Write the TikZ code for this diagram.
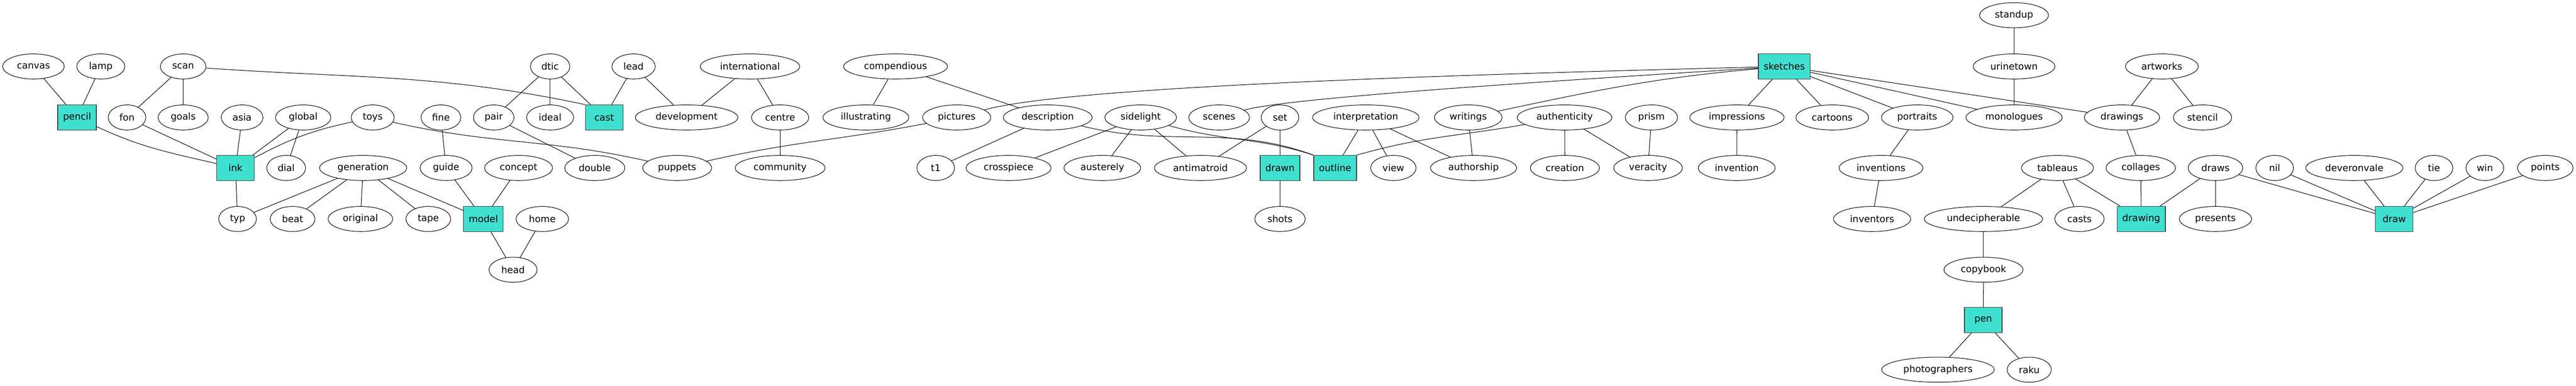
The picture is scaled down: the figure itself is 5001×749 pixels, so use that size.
\documentclass[tikz,border=0pt]{standalone}
\usepackage{fontspec}
\setmainfont{DejaVu Sans}
\usetikzlibrary{shapes.geometric}

\definecolor{turq}{HTML}{40E0D0}
\tikzset{
  WordStyle/.style={draw,ellipse,line width=0.75pt,inner xsep=7.5pt,inner ysep=3pt,
    minimum width=54pt,minimum height=36pt,font=\fontsize{13.5}{16}\selectfont},
  KeyStyle/.style={draw=black!75,rectangle,fill=turq,line width=1pt,inner xsep=7.5pt,
    minimum width=54pt,minimum height=36pt,font=\fontsize{13.5}{16}\selectfont},
  EdgeStyle/.style={line width=0.75pt}
}

\begin{document}
\begin{tikzpicture}[x=0.7392pt,y=0.7392pt]
            \useasboundingbox (0,0) rectangle (5001,-749);

            \node[KeyStyle] (pencil) at (149.6,-228) {pencil};
            \node[KeyStyle] (ink) at (457.2,-326) {ink};
            \node[KeyStyle] (cast) at (1173,-228) {cast};
            \node[KeyStyle] (model) at (938.4,-425) {model};
            \node[KeyStyle] (drawn) at (2485,-326) {drawn};
            \node[KeyStyle] (outline) at (2592,-326) {outline};
            \node[KeyStyle] (sketches) at (3464,-129) {sketches};
            \node[KeyStyle] (drawing) at (4157,-425) {drawing};
            \node[KeyStyle] (draw) at (4648,-425) {draw};
            \node[KeyStyle] (pen) at (3850.3,-621) {pen};

            \node[WordStyle] (standup) at (3910,-29.6) {standup};

            \node[WordStyle] (canvas) at (65,-129) {canvas};
            \node[WordStyle] (lamp) at (195.7,-129) {lamp};
            \node[WordStyle] (scan) at (355.6,-129) {scan};
            \node[WordStyle] (dtic) at (1068,-129) {dtic};
            \node[WordStyle] (lead) at (1230,-129) {lead};
            \node[WordStyle] (international) at (1456,-129) {international};
            \node[WordStyle] (compendious) at (1738.5,-129) {compendious};
            \node[WordStyle] (urinetown) at (3910,-129) {urinetown};
            \node[WordStyle] (artworks) at (4197,-129) {artworks};

            \node[WordStyle] (fon) at (246.6,-228) {fon};
            \node[WordStyle] (goals) at (355.6,-228) {goals};
            \node[WordStyle] (asia) at (470,-228) {asia};
            \node[WordStyle] (global) at (588.6,-228) {global};
            \node[WordStyle] (toys) at (723.6,-228) {toys};
            \node[WordStyle] (fine) at (856,-228) {fine};
            \node[WordStyle] (pair) at (958.5,-228) {pair};
            \node[WordStyle] (ideal) at (1068,-228) {ideal};
            \node[WordStyle] (development) at (1333,-228) {development};
            \node[WordStyle] (centre) at (1514.5,-228) {centre};
            \node[WordStyle] (illustrating) at (1681,-228) {illustrating};
            \node[WordStyle] (pictures) at (1857.3,-228) {pictures};
            \node[WordStyle] (description) at (2034,-228) {description};
            \node[WordStyle] (sidelight) at (2214.5,-228) {sidelight};
            \node[WordStyle] (scenes) at (2366.8,-228) {scenes};
            \node[WordStyle] (set) at (2485,-228) {set};
            \node[WordStyle] (interpretation) at (2651.5,-228) {interpretation};
            \node[WordStyle] (writings) at (2850.4,-228) {writings};
            \node[WordStyle] (authenticity) at (3037.4,-228) {authenticity};
            \node[WordStyle] (prism) at (3206,-228) {prism};
            \node[WordStyle] (impressions) at (3372,-228) {impressions};
            \node[WordStyle] (cartoons) at (3557,-228) {cartoons};
            \node[WordStyle] (portraits) at (3722,-228) {portraits};
            \node[WordStyle] (monologues) at (3910,-228) {monologues};
            \node[WordStyle] (drawings) at (4119.5,-228) {drawings};
            \node[WordStyle] (stencil) at (4276,-228) {stencil};

            \node[WordStyle] (dial) at (555.6,-326) {dial};
            \node[WordStyle] (generation) at (705,-326) {generation};
            \node[WordStyle] (guide) at (866,-326) {guide};
            \node[WordStyle] (concept) at (1006.7,-326) {concept};
            \node[WordStyle] (double) at (1154.7,-326) {double};
            \node[WordStyle] (puppets) at (1314.6,-326) {puppets};
            \node[WordStyle] (community) at (1514.5,-326) {community};
            \node[WordStyle] (t1) at (1816.6,-326) {t1};
            \node[WordStyle] (crosspiece) at (1958,-326) {crosspiece};
            \node[WordStyle] (austerely) at (2140,-326) {austerely};
            \node[WordStyle] (antimatroid) at (2330.5,-326) {antimatroid};
            \node[WordStyle] (view) at (2705,-326) {view};
            \node[WordStyle] (authorship) at (2860.7,-326) {authorship};
            \node[WordStyle] (creation) at (3038,-326) {creation};
            \node[WordStyle] (veracity) at (3199.5,-326) {veracity};
            \node[WordStyle] (invention) at (3371.6,-326) {invention};
            \node[WordStyle] (inventions) at (3651.7,-326) {inventions};
            \node[WordStyle] (tableaus) at (3994.3,-326) {tableaus};
            \node[WordStyle] (collages) at (4156,-326) {collages};
            \node[WordStyle] (draws) at (4301,-326) {draws};
            \node[WordStyle] (nil) at (4416,-326) {nil};
            \node[WordStyle] (deveronvale) at (4570.6,-326) {deveronvale};
            \node[WordStyle] (tie) at (4725.3,-326) {tie};
            \node[WordStyle] (win) at (4824,-326) {win};
            \node[WordStyle] (points) at (4941.3,-326) {points};

            \node[WordStyle] (typ) at (461.2,-425) {typ};
            \node[WordStyle] (beat) at (568,-425) {beat};
            \node[WordStyle] (original) at (699.7,-425) {original};
            \node[WordStyle] (tape) at (831.5,-425) {tape};
            \node[WordStyle] (home) at (1052.8,-425) {home};
            \node[WordStyle] (shots) at (2485,-425) {shots};
            \node[WordStyle] (inventors) at (3634.4,-425) {inventors};
            \node[WordStyle] (undecipherable) at (3850.6,-425) {undecipherable};
            \node[WordStyle] (casts) at (4037,-425) {casts};
            \node[WordStyle] (presents) at (4301,-425) {presents};

            \node[WordStyle] (head) at (996,-523.5) {head};
            \node[WordStyle] (copybook) at (3850.6,-523.5) {copybook};
            \node[WordStyle] (photographers) at (3762.3,-717.5) {photographers};
            \node[WordStyle] (raku) at (3939.5,-717.5) {raku};

            \draw[EdgeStyle] (canvas) -- (pencil);
            \draw[EdgeStyle] (lamp) -- (pencil);
            \draw[EdgeStyle] (scan) -- (fon);
            \draw[EdgeStyle] (scan) -- (goals);
            \draw[EdgeStyle] (scan) to[out=-4,in=168] (cast.north west);
            \draw[EdgeStyle] (pencil) to[out=-25,in=167] (ink);
            \draw[EdgeStyle] (fon) -- (ink);
            \draw[EdgeStyle] (asia) -- (ink);
            \draw[EdgeStyle] (global) -- (ink);
            \draw[EdgeStyle] (global) -- (dial);
            \draw[EdgeStyle] (toys) to[bend right=8] (ink);
            \draw[EdgeStyle] (toys) to[out=-13,in=167] (puppets);
            \draw[EdgeStyle] (ink) -- (typ);
            \draw[EdgeStyle] (generation) -- (typ);
            \draw[EdgeStyle] (generation) -- (beat);
            \draw[EdgeStyle] (generation) -- (original);
            \draw[EdgeStyle] (generation) -- (tape);
            \draw[EdgeStyle] (generation) -- (model);

            \draw[EdgeStyle] (dtic) -- (pair);
            \draw[EdgeStyle] (dtic) -- (ideal);
            \draw[EdgeStyle] (dtic) -- (cast);
            \draw[EdgeStyle] (lead) -- (cast);
            \draw[EdgeStyle] (lead) -- (development);
            \draw[EdgeStyle] (international) -- (development);
            \draw[EdgeStyle] (international) -- (centre);
            \draw[EdgeStyle] (centre) -- (community);
            \draw[EdgeStyle] (fine) -- (guide);
            \draw[EdgeStyle] (pair) -- (double);
            \draw[EdgeStyle] (guide) -- (model);
            \draw[EdgeStyle] (concept) -- (model);
            \draw[EdgeStyle] (model) -- (head);
            \draw[EdgeStyle] (home) -- (head);

            \draw[EdgeStyle] (compendious) -- (illustrating);
            \draw[EdgeStyle] (compendious) -- (description);
            \draw[EdgeStyle] (pictures) to[out=191,in=13] (puppets);
            \draw[EdgeStyle] (description) -- (t1);
            \draw[EdgeStyle] (description) to[out=-14,in=160] (outline.north west);
            \draw[EdgeStyle] (sidelight) -- (crosspiece);
            \draw[EdgeStyle] (sidelight) -- (austerely);
            \draw[EdgeStyle] (sidelight) -- (antimatroid);
            \draw[EdgeStyle] (sidelight) to[out=-16,in=162] (outline.north west);
            \draw[EdgeStyle] (set) -- (antimatroid);
            \draw[EdgeStyle] (set) -- (drawn);
            \draw[EdgeStyle] (drawn) -- (shots);

            \draw[EdgeStyle] (interpretation) -- (outline);
            \draw[EdgeStyle] (interpretation) -- (view);
            \draw[EdgeStyle] (interpretation) -- (authorship);
            \draw[EdgeStyle] (writings) -- (authorship);
            \draw[EdgeStyle] (authenticity) to[out=190,in=16] (outline.north east);
            \draw[EdgeStyle] (authenticity) -- (creation);
            \draw[EdgeStyle] (authenticity) -- (veracity);
            \draw[EdgeStyle] (prism) -- (veracity);

            \draw[EdgeStyle] (sketches) .. controls (2600,-150) and (2050,-175) .. (pictures);
            \draw[EdgeStyle] (sketches) .. controls (2800,-170) and (2480,-195) .. (scenes);
            \draw[EdgeStyle] (sketches) to[out=185,in=12] (writings);
            \draw[EdgeStyle] (sketches) -- (impressions);
            \draw[EdgeStyle] (sketches) -- (cartoons);
            \draw[EdgeStyle] (sketches) -- (portraits);
            \draw[EdgeStyle] (sketches) -- (monologues);
            \draw[EdgeStyle] (sketches) -- (drawings);
            \draw[EdgeStyle] (impressions) -- (invention);
            \draw[EdgeStyle] (portraits) -- (inventions);
            \draw[EdgeStyle] (inventions) -- (inventors);
            \draw[EdgeStyle] (standup) -- (urinetown);
            \draw[EdgeStyle] (urinetown) -- (monologues);
            \draw[EdgeStyle] (artworks) -- (drawings);
            \draw[EdgeStyle] (artworks) -- (stencil);
            \draw[EdgeStyle] (drawings) -- (collages);
            \draw[EdgeStyle] (collages) -- (drawing);
            \draw[EdgeStyle] (tableaus) -- (undecipherable);
            \draw[EdgeStyle] (tableaus) -- (casts);
            \draw[EdgeStyle] (tableaus) -- (drawing);
            \draw[EdgeStyle] (undecipherable) -- (copybook);
            \draw[EdgeStyle] (copybook) -- (pen);
            \draw[EdgeStyle] (pen) -- (photographers);
            \draw[EdgeStyle] (pen) -- (raku);

            \draw[EdgeStyle] (draws) -- (drawing);
            \draw[EdgeStyle] (draws) -- (presents);
            \draw[EdgeStyle] (draws) -- (draw);
            \draw[EdgeStyle] (nil) -- (draw);
            \draw[EdgeStyle] (deveronvale) -- (draw);
            \draw[EdgeStyle] (tie) -- (draw);
            \draw[EdgeStyle] (win) -- (draw);
            \draw[EdgeStyle] (points) -- (draw);
          \end{tikzpicture}
\end{document}
